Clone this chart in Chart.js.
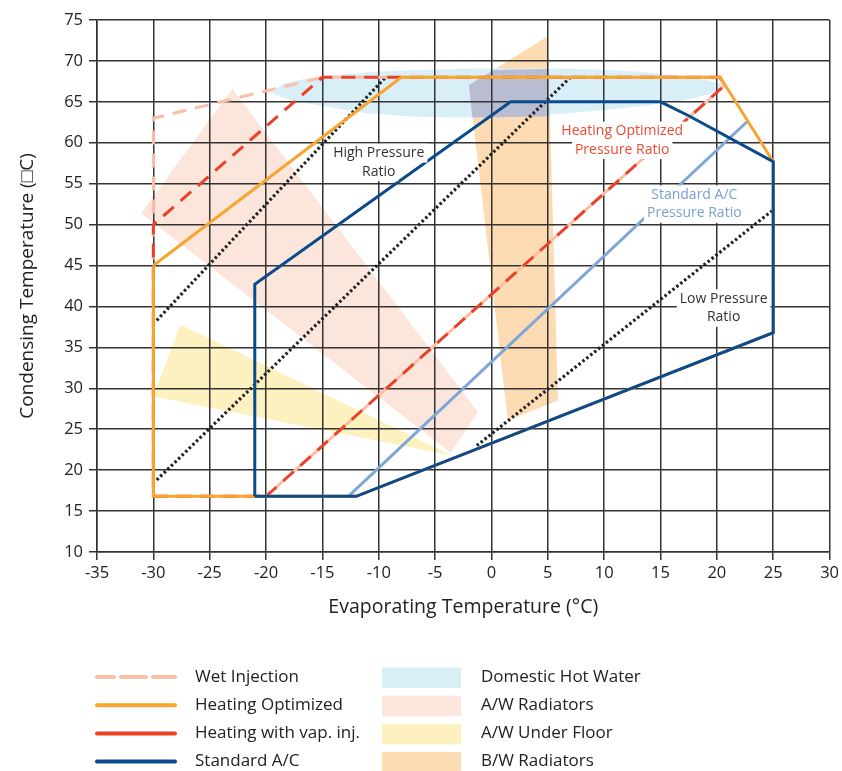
<!DOCTYPE html>
<html>
<head>
<meta charset="utf-8">
<title>Compressor envelope</title>
<style>
  html, body { margin: 0; padding: 0; background: #fff; }
  #wrap { width: 842px; height: 771px; }
</style>
</head>
<body>
<div id="wrap"><canvas id="envelope" width="842" height="771"></canvas></div>
<script src="https://cdn.jsdelivr.net/npm/chart.js@4.4.1/dist/chart.umd.min.js"></script>
<script>
(function() {
    'use strict';

    // Axis ticks
    const xTicks = [-35, -30, -25, -20, -15, -10, -5, 0, 5, 10, 15, 20, 25, 30];
    const yTicks = [10, 15, 20, 25, 30, 35, 40, 45, 50, 55, 60, 65, 70, 75];

    // Operating envelopes [evaporating, condensing]
    const standardAC = [[-21, 16.8], [-12, 16.8], [25, 36.8], [25, 57.7], [17.5, 63.3], [15, 65], [1.7, 65], [-21, 42.7], [-21, 16.8]];
    const heatingOptimized = [[-30, 45], [-8, 68], [20.3, 68], [25, 57.7], [25, 36.8], [-12, 16.8], [-30, 16.8], [-30, 45]];
    const heatingVapInj = [[-20, 16.8], [20.6, 66.9], [20.3, 68], [-15, 68], [-30, 50], [-30, 16.8], [-20, 16.8]];
    const wetInjection = [[-20, 16.8], [20.6, 66.9], [20.3, 68], [-15, 68], [-30, 63], [-30, 16.8], [-20, 16.8]];

    // Pressure ratio lines
    const highRatio = [[-29.7, 38.3], [-9.4, 68]];
    const midRatio = [[-29.7, 18.8], [7, 68]];
    const lowRatio = [[-1.3, 23], [25, 51.8]];
    const acRatio = [[-12.7, 16.8], [22.7, 62.6]];

    // Application zones
    const domesticHotWater = [[-19.6, 66.2], [-18, 67.4], [-12, 68.5], [-6, 68.9], [2, 69.1], [10, 68.9], [16, 68.3], [19.5, 67.5], [20.6, 66.9],
        [19.5, 66], [16, 65], [10, 64], [3, 63.3], [-4, 63.1], [-10, 63.5], [-15, 64.5], [-18.5, 65.5], [-19.6, 66.2]];
    const awRadiators = [[-23, 66.6], [-1.2, 27.1], [-3.6, 22.1], [-31.1, 51.4]];
    const awUnderFloor = [[-27.6, 37.8], [-3.5, 21.8], [-30, 29]];
    const bwRadiators = [[-2, 67.05], [5, 73], [5.9, 28.5], [1.45, 26.1]];
    const dhwBwOverlap = [[-2, 67.05], [0.2, 68.9], [5.05, 69], [5.15, 63.2], [-1.7, 63.1]];

    // Text notes on the plot
    const noteText = [['High Pressure', 'Ratio'], ['Heating Optimized', 'Pressure Ratio'], ['Standard A/C', 'Pressure Ratio'], ['Low Pressure', 'Ratio']];
    const noteX = [-10, 11.6, 18, 20.6];
    const noteY = [57.6, 60.3, 52.5, 39.8];
    const noteColor = ['#333333', '#ee4a32', '#7b9fd2', '#333333'];

    const lineLegend = ['Wet Injection', 'Heating Optimized', 'Heating with vap. inj.', 'Standard A/C'];
    const zoneLegend = ['Domestic Hot Water', 'A/W Radiators', 'A/W Under Floor', 'B/W Radiators'];

    const FONT = "'Open Sans', 'Noto Sans', sans-serif";
    Chart.defaults.font.family = FONT;
    Chart.defaults.color = '#222';

    function toPoints(arr) {
        return arr.map(p => ({x: p[0], y: p[1]}));
    }

    function lineSet(label, pts, color, order, extra) {
        return Object.assign({
            label: label,
            data: toPoints(pts),
            showLine: true,
            borderColor: color,
            backgroundColor: color,
            borderWidth: 3,
            pointRadius: 0,
            fill: false,
            tension: 0,
            order: order
        }, extra || {});
    }

    function zoneSet(label, pts, color, order, extra) {
        return Object.assign({
            label: label,
            data: toPoints(pts),
            showLine: true,
            borderWidth: 0,
            borderColor: 'rgba(0,0,0,0)',
            backgroundColor: color,
            fill: 'shape',
            pointRadius: 0,
            tension: 0,
            order: order
        }, extra || {});
    }

    const datasets = [
        zoneSet('A/W Radiators', awRadiators, '#fce6dc', 14),
        zoneSet('A/W Under Floor', awUnderFloor, '#fdf1c0', 13),
        zoneSet('B/W Radiators', bwRadiators, '#fddcb3', 12),
        zoneSet('Domestic Hot Water', domesticHotWater, '#d9eff7', 11, {tension: 0.4}),
        zoneSet('overlap', dhwBwOverlap, '#b9bdd1', 10),
        lineSet('high ratio', highRatio, '#222', 6, {borderDash: [2.5, 2.5], borderWidth: 3.2}),
        lineSet('mid ratio', midRatio, '#222', 6, {borderDash: [2.5, 2.5], borderWidth: 3.2}),
        lineSet('low ratio', lowRatio, '#222', 6, {borderDash: [2.5, 2.5], borderWidth: 3.2}),
        lineSet('A/C ratio', acRatio, '#7ea6d6', 6),
        lineSet('Wet Injection', wetInjection, '#fbbfa5', 5, {borderDash: [14, 9], borderDashOffset: 11, legendDash: [25, 7], legendDashOffset: 8}),
        lineSet('Heating with vap. inj.', heatingVapInj, '#ea4129', 4, {borderDash: [14, 9]}),
        lineSet('Heating Optimized', heatingOptimized, '#f7a431', 3),
        lineSet('Standard A/C', standardAC, '#0b4a8b', 1)
    ];

    // White-backed text notes drawn over the lines
    const notesPlugin = {
        id: 'notes',
        afterDatasetsDraw(chart) {
            const ctx = chart.ctx;
            const xs = chart.scales.x, ys = chart.scales.y;
            ctx.save();
            ctx.font = '14px ' + FONT;
            ctx.textAlign = 'center';
            ctx.textBaseline = 'middle';
            noteText.forEach((lines, i) => {
                const cx = xs.getPixelForValue(noteX[i]);
                const cy = ys.getPixelForValue(noteY[i]);
                lines.forEach((txt, j) => {
                    const ly = cy + (j - (lines.length - 1) / 2) * 18.5;
                    const w = ctx.measureText(txt).width + 6;
                    ctx.fillStyle = '#fff';
                    ctx.fillRect(cx - w / 2, ly - 9.5, w, 19);
                    ctx.fillStyle = noteColor[i];
                    ctx.fillText(txt, cx, ly);
                });
            });
            ctx.restore();
        }
    };

    // Two column legend below the plot
    const legendPlugin = {
        id: 'twoColLegend',
        afterDraw(chart) {
            const ctx = chart.ctx;
            ctx.save();
            ctx.font = '17px ' + FONT;
            ctx.textBaseline = 'middle';
            ctx.textAlign = 'left';
            lineLegend.forEach((name, i) => {
                const ds = chart.data.datasets.find(d => d.label === name);
                const y = 677 + i * 28.2;
                ctx.strokeStyle = ds.borderColor;
                ctx.lineWidth = 4;
                ctx.lineCap = 'round';
                ctx.setLineDash(ds.legendDash || []);
                ctx.lineDashOffset = ds.legendDashOffset || 0;
                ctx.beginPath();
                ctx.moveTo(97, y);
                ctx.lineTo(175, y);
                ctx.stroke();
                ctx.fillStyle = '#222';
                ctx.fillText(name, 195, y);
            });
            ctx.setLineDash([]);
            zoneLegend.forEach((name, i) => {
                const ds = chart.data.datasets.find(d => d.label === name);
                const y = 677 + i * 28.2;
                ctx.fillStyle = ds.backgroundColor;
                ctx.fillRect(382, y - 9.5, 79, 20.5);
                ctx.fillStyle = '#222';
                ctx.fillText(name, 481, y);
            });
            ctx.restore();
        }
    };

    const gridOpts = {
        color: '#333',
        lineWidth: 1.5,
        tickLength: 8,
        drawTicks: true
    };

    new Chart(document.getElementById('envelope'), {
        type: 'scatter',
        data: {datasets: datasets},
        options: {
            responsive: false,
            animation: false,
            devicePixelRatio: 1,
            events: [],
            layout: {padding: {left: 0, top: 20, right: 11, bottom: 152}},
            plugins: {
                legend: {display: false},
                tooltip: {enabled: false},
                filler: {drawTime: 'beforeDraw'}
            },
            scales: {
                x: {
                    type: 'linear',
                    min: xTicks[0],
                    max: xTicks[xTicks.length - 1],
                    afterBuildTicks: s => { s.ticks = xTicks.map(v => ({value: v})); },
                    afterFit: s => { s.height = 67; },
                    grid: gridOpts,
                    border: {color: '#333', width: 1.5},
                    ticks: {font: {size: 16.5}, color: '#222', padding: 3, maxRotation: 0, autoSkip: false},
                    title: {display: true, text: 'Evaporating Temperature (°C)', font: {size: 19.5}, color: '#222', padding: {top: 0, bottom: 0}}
                },
                y: {
                    type: 'linear',
                    min: yTicks[0],
                    max: yTicks[yTicks.length - 1],
                    afterBuildTicks: s => { s.ticks = yTicks.map(v => ({value: v})); },
                    afterFit: s => { s.width = 97; },
                    grid: gridOpts,
                    border: {color: '#333', width: 1.5},
                    ticks: {font: {size: 16.5}, color: '#222', padding: 6, autoSkip: false},
                    title: {display: true, text: 'Condensing Temperature (\u25A1C)', font: {size: 19}, color: '#222', padding: {top: 16.5, bottom: 0}}
                }
            }
        },
        plugins: [notesPlugin, legendPlugin]
    });
})();
</script>
</body>
</html>
